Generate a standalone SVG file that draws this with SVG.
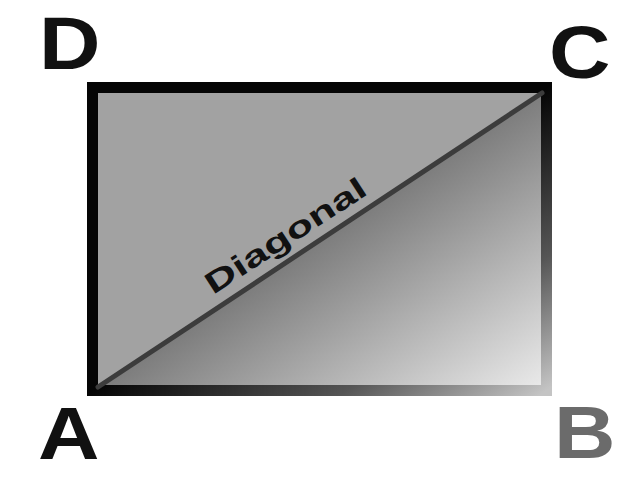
<svg xmlns="http://www.w3.org/2000/svg" width="640" height="480" viewBox="0 0 640 480">
<style>
.lbl{font-family:"Liberation Sans",Arial,sans-serif;font-weight:bold;font-size:74px}
.diag{font-family:"Liberation Sans",Arial,sans-serif;font-weight:bold;font-size:30px;fill:#111}
</style>
<defs>
<linearGradient id="fillg" x1="0" y1="0" x2="1" y2="1">
<stop offset="0.5" stop-color="#7c7c7c"/>
<stop offset="1" stop-color="#ececec"/>
</linearGradient>
<linearGradient id="strokeg" x1="0" y1="0" x2="1" y2="1">
<stop offset="0.5" stop-color="#050505"/>
<stop offset="0.78" stop-color="#555555"/>
<stop offset="1" stop-color="#c4c4c4"/>
</linearGradient>
</defs>
<rect width="640" height="480" fill="#fff"/>
<g id="rectangle">
<polygon points="92.5,390.5 546.5,87.5 546.5,390.5" fill="url(#fillg)"/>
<polygon points="92.5,87.5 546.5,87.5 92.5,390.5" fill="#a2a2a2"/>
<rect x="92.5" y="87.5" width="454" height="303" fill="none" stroke="url(#strokeg)" stroke-width="11"/>
</g>
<g id="connectors">
<line id="diagonal" x1="98" y1="387" x2="542" y2="93" stroke="#3c3c3c" stroke-width="5" stroke-linecap="round"/>
</g>
<g id="diagonal-label">
<text class="diag" transform="translate(213,295) rotate(-33)" textLength="186" lengthAdjust="spacingAndGlyphs">Diagonal</text>
</g>
<g id="node-D"><text class="lbl" fill="#111" transform="translate(39,69) scale(1.15,1)">D</text></g>
<g id="node-C"><text class="lbl" fill="#111" transform="translate(549,78) scale(1.15,1)">C</text></g>
<g id="node-A"><text class="lbl" fill="#111" transform="translate(38,459) scale(1.15,1)">A</text></g>
<g id="node-B"><text class="lbl" fill="#6b6b6b" transform="translate(554,458) scale(1.15,1)">B</text></g>
</svg>
